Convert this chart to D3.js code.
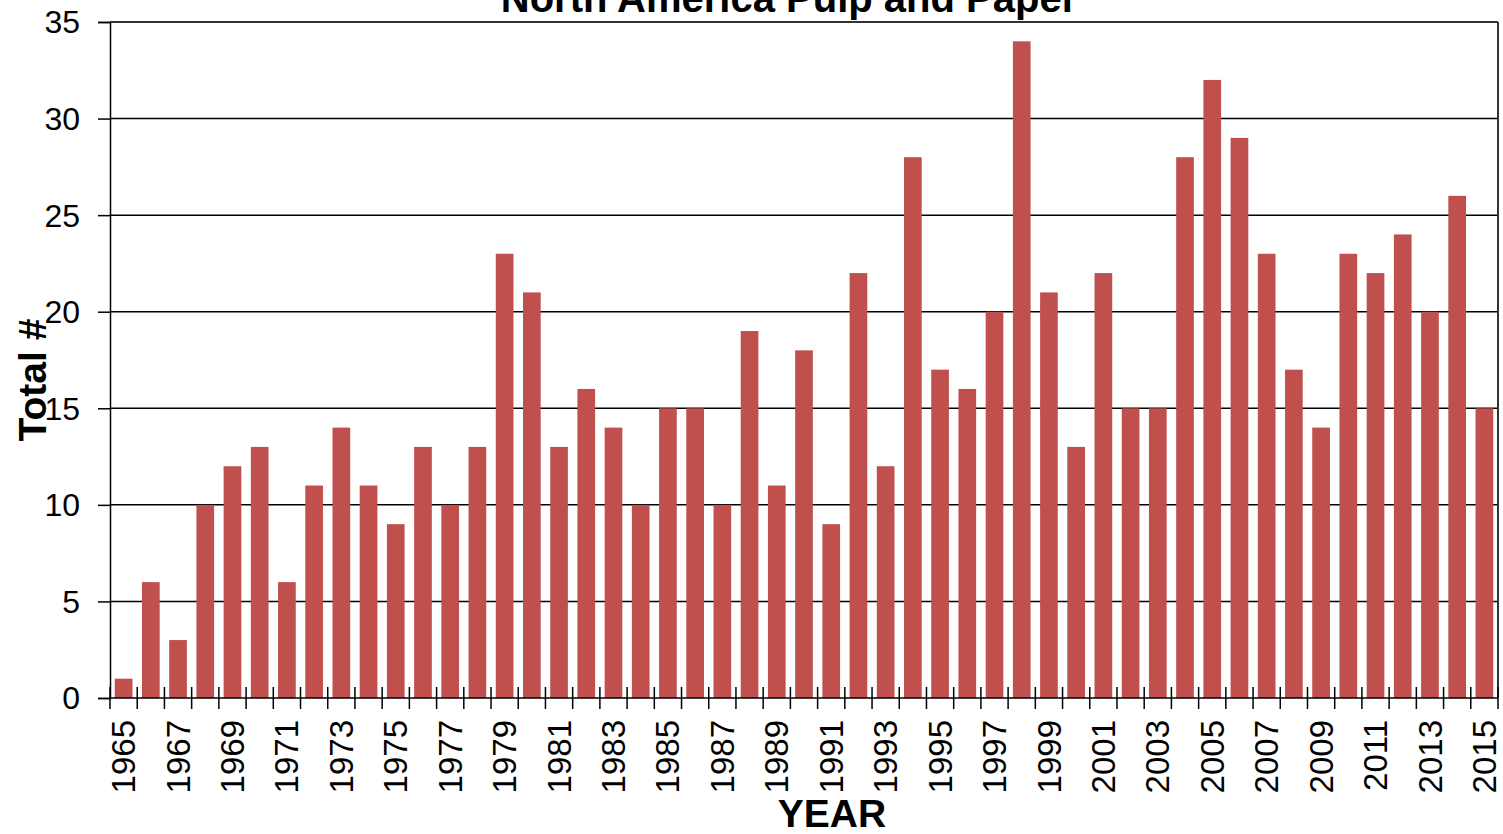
<!DOCTYPE html>
<html>
<head>
<meta charset="utf-8">
<script src="https://cdn.jsdelivr.net/npm/d3@7/dist/d3.min.js"></script>
<style>
  html, body { margin: 0; padding: 0; background: #fff; }
  svg { display: block; }
  text { font-family: "Liberation Sans", Arial, sans-serif; fill: #000; }
</style>
</head>
<body>
<svg id="chart" width="1503" height="834"></svg>
<script>
const title = "North America Pulp and Paper";
const xTitle = "YEAR";
const yTitle = "Total #";
const years = [1965,1966,1967,1968,1969,1970,1971,1972,1973,1974,1975,1976,1977,1978,1979,1980,
  1981,1982,1983,1984,1985,1986,1987,1988,1989,1990,1991,1992,1993,1994,1995,1996,1997,1998,1999,
  2000,2001,2002,2003,2004,2005,2006,2007,2008,2009,2010,2011,2012,2013,2014,2015];
const totals = [1,6,3,10,12,13,6,11,14,11,9,13,10,13,23,21,
  13,16,14,10,15,15,10,19,11,18,9,22,12,28,17,16,20,34,21,
  13,22,15,15,28,32,29,23,17,14,23,22,24,20,26,15];
const yTicks = [0,5,10,15,20,25,30,35];

const svg = d3.select("#chart");
const pL = 110, pR = 1498, pT = 22, pB = 698;

const x = d3.scaleBand().domain(years).range([pL, pR]).paddingInner(0.35).paddingOuter(0.175);
const y = d3.scaleLinear().domain([0, 35]).range([pB, pT]);

// gridlines
svg.append("g").selectAll("line").data(yTicks.filter(d => d > 0 && d < 35)).join("line")
  .attr("x1", pL).attr("x2", pR)
  .attr("y1", d => y(d)).attr("y2", d => y(d))
  .attr("stroke", "#000").attr("stroke-width", 1.5);

// plot border top/right
svg.append("line").attr("x1", pL).attr("x2", pR).attr("y1", pT).attr("y2", pT)
  .attr("stroke", "#333").attr("stroke-width", 2);
svg.append("line").attr("x1", pR).attr("x2", pR).attr("y1", pT).attr("y2", pB)
  .attr("stroke", "#333").attr("stroke-width", 2);

// bars
svg.append("g").selectAll("rect").data(years).join("rect")
  .attr("x", (d) => x(d))
  .attr("width", x.bandwidth())
  .attr("y", (d, i) => y(totals[i]))
  .attr("height", (d, i) => y(0) - y(totals[i]))
  .attr("fill", "#C0504D");

// y axis
const yAxis = d3.axisLeft(y).tickValues(yTicks).tickSize(12).tickPadding(18).tickFormat(d3.format("d"));
const gy = svg.append("g").attr("transform", `translate(${pL},0)`).call(yAxis);
gy.select(".domain").attr("stroke", "#000").attr("stroke-width", 1.5);
gy.selectAll(".tick line").attr("stroke", "#000").attr("stroke-width", 1.5);
gy.selectAll(".tick text").style("font-size", "32px").attr("dy", "0.34em")
  .style("font-family", "'Liberation Sans', Arial, sans-serif").attr("fill", "#000");

// x axis line
svg.append("line").attr("x1", pL).attr("x2", pR).attr("y1", pB).attr("y2", pB)
  .attr("stroke", "#000").attr("stroke-width", 1.5);

// x tick marks at category boundaries (cross)
const bounds = d3.range(years.length + 1).map(i => pL + i * (pR - pL) / years.length);
svg.append("g").selectAll("line").data(bounds).join("line")
  .attr("x1", d => d).attr("x2", d => d)
  .attr("y1", pB - 11).attr("y2", pB + 11)
  .attr("stroke", "#000").attr("stroke-width", 1.5);

// x labels (every other year)
svg.append("g").selectAll("text").data(years.filter((d, i) => i % 2 === 0)).join("text")
  .attr("transform", d => `translate(${x(d) + x.bandwidth() / 2},${pB + 22}) rotate(-90)`)
  .attr("text-anchor", "end")
  .attr("dy", "0.35em")
  .style("font-size", "33px")
  .text(d => d);

// title
svg.append("text").attr("x", 789).attr("y", 12).attr("text-anchor", "middle")
  .style("font-size", "40px").style("font-weight", "bold").text(title);

// axis titles
svg.append("text").attr("x", 832).attr("y", 827).attr("text-anchor", "middle")
  .style("font-size", "39px").style("font-weight", "bold").text(xTitle);
svg.append("text").attr("transform", "translate(46,380) rotate(-90)").attr("text-anchor", "middle")
  .style("font-size", "39px").style("font-weight", "bold").text(yTitle);
</script>
</body>
</html>
